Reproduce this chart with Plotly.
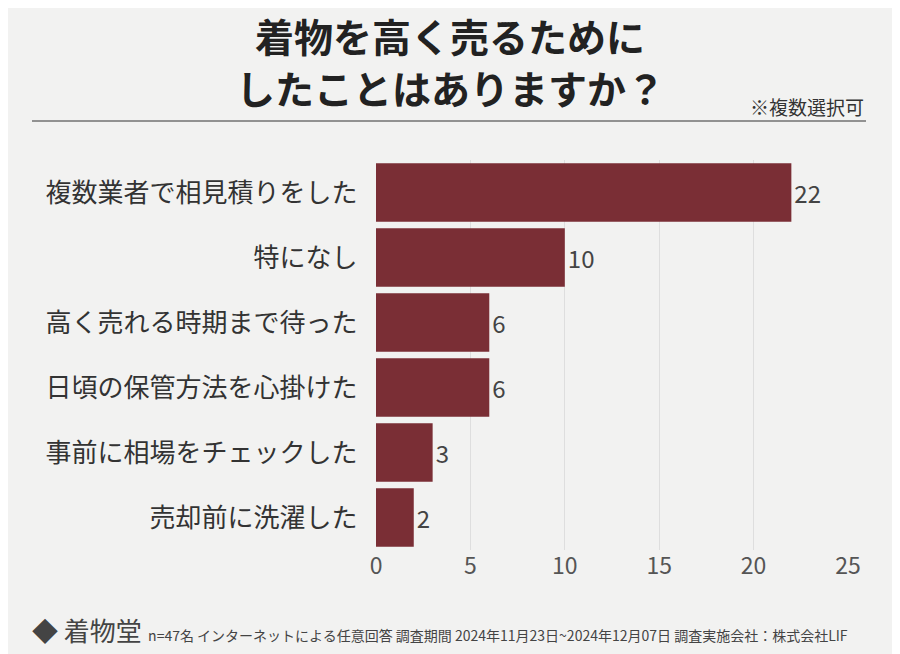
import plotly.graph_objects as go

categories = ["複数業者で相見積りをした", "特になし", "高く売れる時期まで待った",
              "日頃の保管方法を心掛けた", "事前に相場をチェックした", "売却前に洗濯した"]
values = [22, 10, 6, 6, 3, 2]
x_ticks = [0, 5, 10, 15, 20, 25]

F = "Noto Sans CJK JP"
L, R, T, B = 368, 60, 152, 112
W, H = 900, 654
pw, ph = W - L - R, H - T - B
def px(x): return (x - L - 8) / pw
def py(y): return (H - B - y + 8) / ph

fig = go.Figure(go.Bar(
    y=categories, x=values, orientation="h",
    marker=dict(color="#7a2e35", line=dict(width=0)),
    text=[str(v) for v in values], textposition="outside",
    textfont=dict(size=24, color="#444", family=F), cliponaxis=False, width=0.9,
))
fig.update_layout(
    width=W, height=H, margin=dict(l=L, r=R, t=T, b=B),
    paper_bgcolor="#f2f2f1", plot_bgcolor="rgba(0,0,0,0)", showlegend=False,
    font=dict(family=F, color="#333"),
    xaxis=dict(range=[0, 25], tickvals=x_ticks, showgrid=True, gridcolor="#dedede",
               zeroline=False, tickfont=dict(size=23, color="#555"), ticks="", fixedrange=True),
    yaxis=dict(autorange="reversed", tickfont=dict(size=26, color="#333"), ticks="",
               ticksuffix="   ", showgrid=False),
    annotations=[
        dict(text="<b>着物を高く売るために</b>", x=px(450), y=py(35),
             xref="paper", yref="paper", xanchor="center", yanchor="middle", showarrow=False,
             font=dict(size=39, color="#222", family=F)),
        dict(text="<b>したことはありますか？</b>", x=px(450), y=py(87),
             xref="paper", yref="paper", xanchor="center", yanchor="middle", showarrow=False,
             font=dict(size=39, color="#222", family=F)),
        dict(text="※複数選択可", x=px(866), y=py(122), xref="paper", yref="paper", xanchor="right",
             yanchor="bottom", showarrow=False, font=dict(size=19, color="#333", family=F)),
        dict(text="<span style='font-size:26px'>◆ 着物堂</span>  n=47名 インターネットによる任意回答 調査期間 2024年11月23日~2024年12月07日 調査実施会社：株式会社LIF",
             x=px(30), y=py(650), xref="paper", yref="paper", xanchor="left", yanchor="bottom",
             showarrow=False, font=dict(size=14, color="#444", family=F)),
    ],
    shapes=[dict(type="line", xref="paper", yref="paper", x0=px(32), x1=px(866),
                 y0=py(121), y1=py(121), line=dict(color="#333", width=1))],
)
fig.write_html("out.html")
